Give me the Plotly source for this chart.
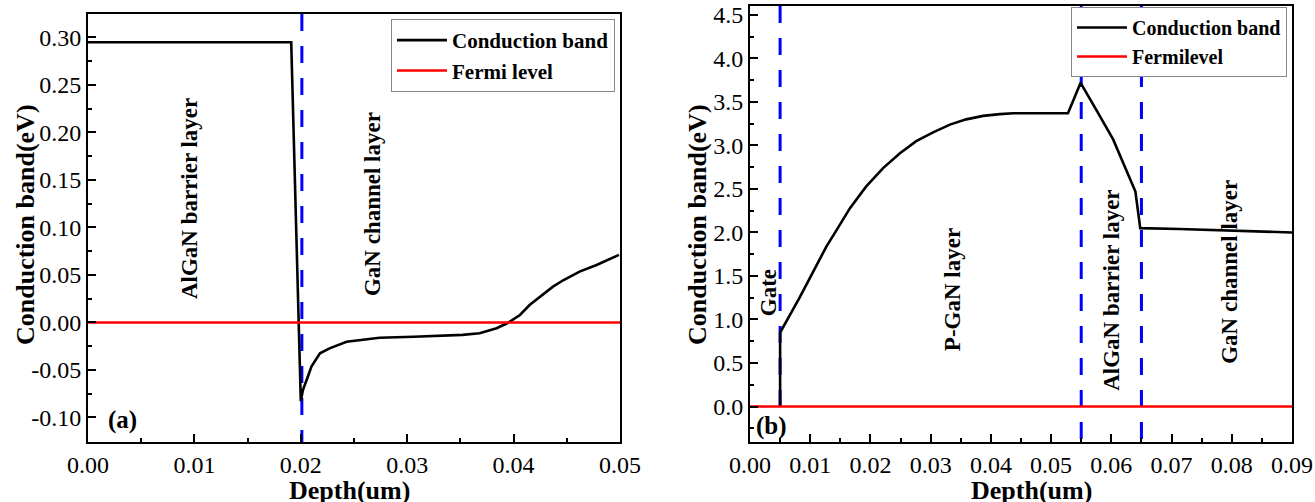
import plotly.graph_objects as go

# ---- (a) AlGaN/GaN heterostructure ----
depth_a = [0.0, 0.0191, 0.0200, 0.0202, 0.0206, 0.0210, 0.0218, 0.0227, 0.0243,
           0.0259, 0.0274, 0.0306, 0.0352, 0.0368, 0.0384, 0.0394, 0.0406, 0.0415,
           0.0425, 0.0437, 0.0447, 0.0462, 0.0478, 0.0499]
cb_a = [0.295, 0.295, -0.083, -0.071, -0.059, -0.0465, -0.0324, -0.0272, -0.0202,
        -0.0177, -0.016, -0.015, -0.013, -0.0114, -0.0061, -0.0008, 0.0079, 0.0184,
        0.0272, 0.0377, 0.0447, 0.0535, 0.0605, 0.0711]
fermi_a_x = [0.0, 0.05]
fermi_a = [0.0, 0.0]
bounds_a = [0.0201]

# ---- (b) p-GaN gate stack ----
depth_b = [0.005, 0.005, 0.0083, 0.0122, 0.0127, 0.0144, 0.0166, 0.0193, 0.0221,
           0.0249, 0.0276, 0.0304, 0.0332, 0.0359, 0.0387, 0.0415, 0.0437, 0.0528,
           0.0549, 0.0575, 0.0603, 0.0640, 0.0648, 0.0713, 0.0900]
cb_b = [0.0, 0.85, 1.26, 1.76, 1.84, 2.03, 2.28, 2.53, 2.74,
        2.91, 3.05, 3.15, 3.24, 3.30, 3.34, 3.36, 3.37, 3.37,
        3.72, 3.41, 3.07, 2.47, 2.05, 2.04, 2.00]
fermi_b_x = [0.0, 0.09]
fermi_b = [0.0, 0.0]
bounds_b = [0.005, 0.055, 0.065]
bounds_b_bottom = [0.0, -0.408, -0.408]

xticks_a = [0.00, 0.01, 0.02, 0.03, 0.04, 0.05]
xtext_a = ["0.00", "0.01", "0.02", "0.03", "0.04", "0.05"]
yticks_a = [-0.10, -0.05, 0.00, 0.05, 0.10, 0.15, 0.20, 0.25, 0.30]
ytext_a = ["-0.10", "-0.05", "0.00", "0.05", "0.10", "0.15", "0.20", "0.25", "0.30"]
xticks_b = [0.00, 0.01, 0.02, 0.03, 0.04, 0.05, 0.06, 0.07, 0.08, 0.09]
xtext_b = ["0.00", "0.01", "0.02", "0.03", "0.04", "0.05", "0.06", "0.07", "0.08", "0.09"]
yticks_b = [0.0, 0.5, 1.0, 1.5, 2.0, 2.5, 3.0, 3.5, 4.0, 4.5]
ytext_b = ["0.0", "0.5", "1.0", "1.5", "2.0", "2.5", "3.0", "3.5", "4.0", "4.5"]

YR_A = [-0.1258, 0.3247]
YR_B = [-0.408, 4.603]

FONT = "Liberation Serif"
BLUE = "#0000ff"
DASH = "17px,15px"
W, H = 1315, 502

fig = go.Figure()

# layer boundaries
for xb in bounds_a:
    fig.add_trace(go.Scatter(x=[xb, xb], y=[YR_A[1], YR_A[0]], mode="lines",
                             line=dict(color=BLUE, width=3, dash=DASH),
                             showlegend=False, hoverinfo="skip", xaxis="x", yaxis="y"))
for xb, yb in zip(bounds_b, bounds_b_bottom):
    fig.add_trace(go.Scatter(x=[xb, xb], y=[YR_B[1], yb], mode="lines",
                             line=dict(color=BLUE, width=3, dash=DASH),
                             showlegend=False, hoverinfo="skip", xaxis="x2", yaxis="y2"))

fig.add_trace(go.Scatter(x=depth_a, y=cb_a, mode="lines", name="Conduction band",
                         line=dict(color="black", width=2.6), xaxis="x", yaxis="y",
                         legend="legend"))
fig.add_trace(go.Scatter(x=fermi_a_x, y=fermi_a, mode="lines", name="Fermi level",
                         line=dict(color="#ff0000", width=2.6), xaxis="x", yaxis="y",
                         legend="legend"))
fig.add_trace(go.Scatter(x=depth_b, y=cb_b, mode="lines", name="Conduction band",
                         line=dict(color="black", width=2.6), xaxis="x2", yaxis="y2",
                         legend="legend2"))
fig.add_trace(go.Scatter(x=fermi_b_x, y=fermi_b, mode="lines", name="Fermilevel",
                         line=dict(color="#ff0000", width=2.6), xaxis="x2", yaxis="y2",
                         legend="legend2"))

tickfont = dict(family=FONT, size=24, color="black")


def axis(domain, rng, tv, tt, minor_dtick, anchor):
    return dict(domain=domain, range=rng, anchor=anchor, tickmode="array",
                tickvals=tv, ticktext=tt, ticks="inside", ticklen=8, tickwidth=2,
                tickcolor="black", showline=True, linewidth=2, linecolor="black",
                mirror=True, showgrid=False, zeroline=False, tickfont=tickfont,
                automargin=False,
                minor=dict(tickmode="linear", tick0=0, dtick=minor_dtick, ticks="inside",
                           ticklen=4, tickwidth=1.5, tickcolor="black", showgrid=False))


legend_font = dict(family=FONT, size=21, color="black", weight="bold")

fig.update_layout(
    width=W, height=H,
    margin=dict(l=0, r=0, t=0, b=0, pad=0, autoexpand=False),
    paper_bgcolor="white", plot_bgcolor="white",
    xaxis=axis([88 / W, 620 / W], [0, 0.05], xticks_a, xtext_a, 0.005, "y"),
    yaxis=axis([1 - 442 / H, 1 - 14 / H], YR_A, yticks_a, ytext_a, 0.025, "x"),
    xaxis2=axis([750 / W, 1292 / W], [0, 0.09], xticks_b, xtext_b, 0.005, "y2"),
    yaxis2=axis([1 - 442 / H, 1 - 6 / H], YR_B, yticks_b, ytext_b, 0.25, "x2"),
    legend=dict(x=615 / W, y=1 - 19 / H, xanchor="right", yanchor="top", bgcolor="white",
                bordercolor="#888888", borderwidth=1, font=legend_font, itemwidth=50,
                tracegroupgap=0),
    legend2=dict(x=1287 / W, y=1 - 7 / H, xanchor="right", yanchor="top", bgcolor="white",
                 bordercolor="#888888", borderwidth=1, font=dict(legend_font, size=20),
                 itemwidth=50, tracegroupgap=0),
)

title_font = dict(family=FONT, size=26, color="black", weight="bold")
label_font = dict(family=FONT, size=23, color="black", weight="bold")
tag_font = dict(family=FONT, size=25, color="black", weight="bold")


def note(text, x, y, xref, yref, font, angle=0):
    return dict(text=text, x=x, y=y, xref=xref, yref=yref, xanchor="center",
                yanchor="middle", textangle=angle, showarrow=False, font=font)


annotations = [
    # axis titles
    note("Conduction band(eV)", 25 / W, 1 - 225 / H, "paper", "paper", title_font, -90),
    note("Conduction band(eV)", 697 / W, 1 - 225 / H, "paper", "paper", title_font, -90),
    note("Depth(um)", 349 / W, 1 - 490 / H, "paper", "paper", title_font),
    note("Depth(um)", 1031 / W, 1 - 490 / H, "paper", "paper", title_font),
    # panel (a) labels
    note("AlGaN barrier layer", 0.0096, 0.130, "x", "y", label_font, -90),
    note("GaN channel layer", 0.0267, 0.1247, "x", "y", label_font, -90),
    note("(a)", 0.0032, -0.1026, "x", "y", tag_font),
    # panel (b) labels
    note("Gate", 0.0030, 1.303, "x2", "y2", label_font, -90),
    note("P-GaN layer", 0.0336, 1.341, "x2", "y2", label_font, -90),
    note("AlGaN barrier layer", 0.0600, 1.333, "x2", "y2", label_font, -90),
    note("GaN channel layer", 0.0797, 1.548, "x2", "y2", label_font, -90),
    note("(b)", 0.0036, -0.222, "x2", "y2", tag_font),
]
fig.update_layout(annotations=annotations)

fig.write_html("out.html")
